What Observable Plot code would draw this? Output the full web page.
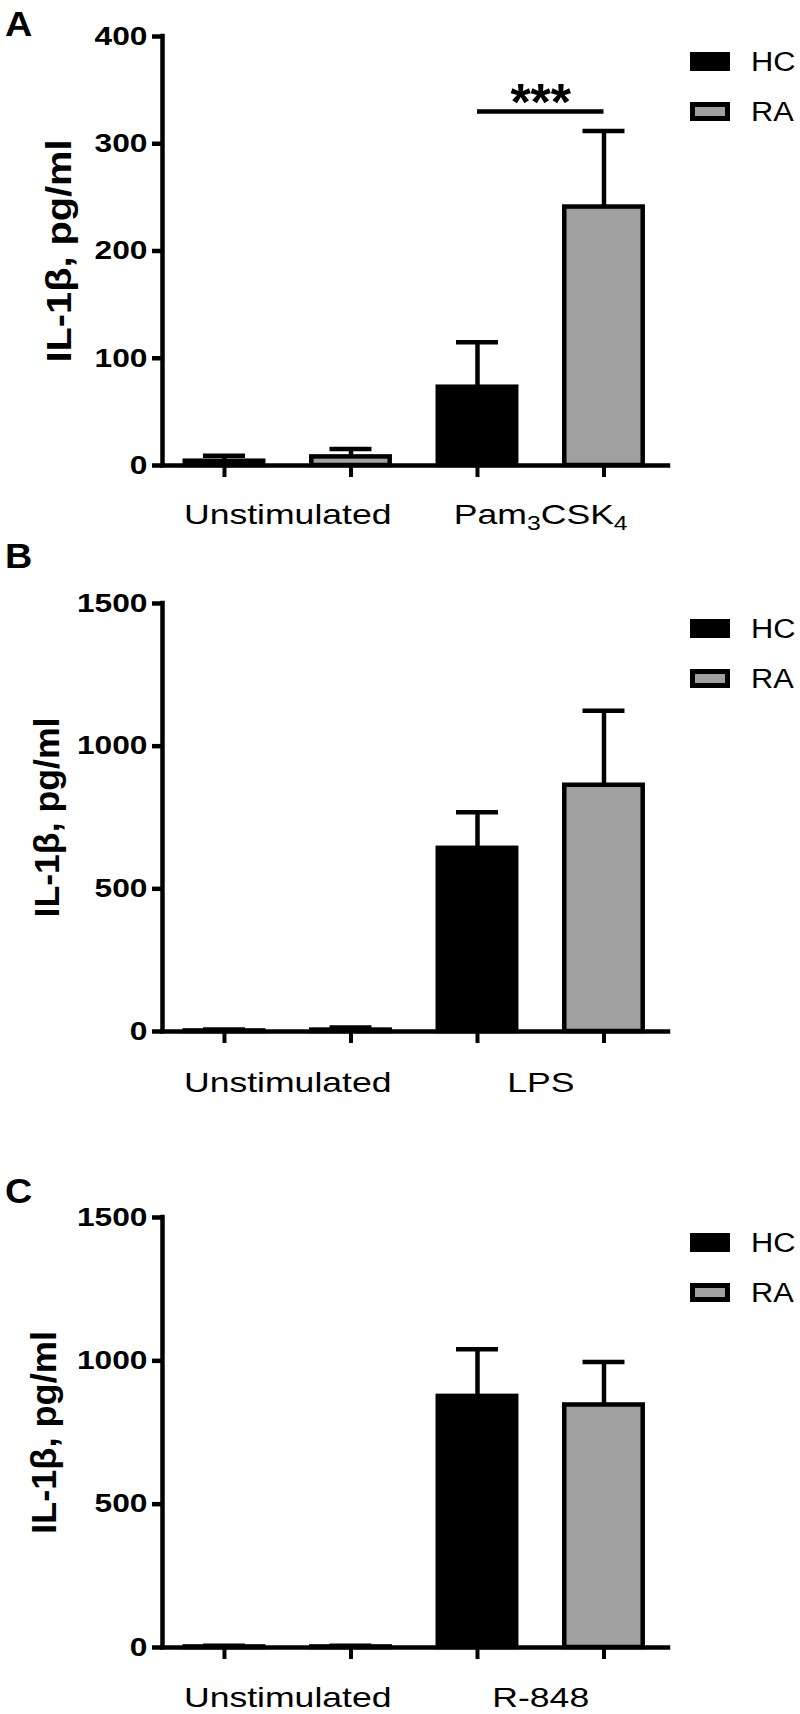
<!DOCTYPE html>
<html>
<head>
<meta charset="utf-8">
<script src="https://cdn.jsdelivr.net/npm/d3@7"></script>
<script src="https://cdn.jsdelivr.net/npm/@observablehq/plot@0.6"></script>
<style>
  html, body { margin: 0; padding: 0; background: #fff; }
  #root { position: relative; width: 800px; height: 1714px; overflow: hidden; font-family: "Liberation Sans", Arial, sans-serif; }
  #root > .panel { position: absolute; left: 0; }
  #overlay { position: absolute; left: 0; top: 0; pointer-events: none; }
</style>
</head>
<body>
<div id="root"></div>
<script>
// ---------------- data ----------------
const groups = ["HC", "RA"];
const groupFill = ["#000000", "#a0a0a0"];
const yLabel = "IL-1β, pg/ml";
const panelLetters = ["A", "B", "C"];

const stimuliA = ["Unstimulated", "Pam3CSK4"];
const meanHC_A = [4, 73];
const semHC_A = [5, 42];
const meanRA_A = [8, 241];
const semRA_A = [7.5, 71];
const yTicksA = [0, 100, 200, 300, 400];
const sigA = [{stimulus: "Pam3CSK4", y: 330, label: "***"}];

const stimuliB = ["Unstimulated", "LPS"];
const meanHC_B = [2, 642];
const semHC_B = [5, 126];
const meanRA_B = [5, 863];
const semRA_B = [9, 261];
const yTicksB = [0, 500, 1000, 1500];

const stimuliC = ["Unstimulated", "R-848"];
const meanHC_C = [2, 876];
const semHC_C = [4, 164];
const meanRA_C = [2, 846];
const semRA_C = [4, 150];
const yTicksC = [0, 500, 1000, 1500];

// ---------------- layout ----------------
const panels = [
  {stimuli: stimuliA, meanHC: meanHC_A, semHC: semHC_A, meanRA: meanRA_A, semRA: semRA_A, yTicks: yTicksA, sig: sigA},
  {stimuli: stimuliB, meanHC: meanHC_B, semHC: semHC_B, meanRA: meanRA_B, semRA: semRA_B, yTicks: yTicksB, sig: []},
  {stimuli: stimuliC, meanHC: meanHC_C, semHC: semHC_C, meanRA: meanRA_C, semRA: semRA_C, yTicks: yTicksC, sig: []}
];
const layouts = [
  {top: 0,    height: 540, marginTop: 36,  marginBottom: 75, titleDx: -92,  titleLength: 223, labelDy: 58, letterX: 5, letterY: 36},
  {top: 540,  height: 570, marginTop: 63,  marginBottom: 79, titleDx: -104, titleLength: 200, labelDy: 60, letterX: 5, letterY: 568},
  {top: 1110, height: 604, marginTop: 107, marginBottom: 67, titleDx: -107, titleLength: 203, labelDy: 59, letterX: 5, letterY: 1203}
];
const SW = 4.5;
const BAR_HALF = 0.31, CAP_HALF = 0.166;
const STRETCH_TICK = 1.22, STRETCH_CAT = 1.27, STRETCH_LEGEND = 1.1, STRETCH_LETTER = 1.08;

function stretchText(el, sx) {
  const t = el.getAttribute("transform") || "";
  const m = t.match(/^\s*translate\([^)]*\)/);
  if (m) {
    el.setAttribute("transform", m[0] + ` scale(${sx},1)` + t.slice(m[0].length));
  } else {
    const x = parseFloat(el.getAttribute("x")) || 0;
    el.setAttribute("transform", `translate(${x},0) scale(${sx},1) translate(${-x},0) ` + t);
  }
}

function subscriptify(el) {
  const s = el.textContent;
  const parts = s.split(/(?<=[A-Za-z])(\d)/).filter(p => p !== "");
  if (parts.length < 2) return;
  el.textContent = "";
  let shifted = false;
  for (const p of parts) {
    const ts = document.createElementNS("http://www.w3.org/2000/svg", "tspan");
    const isSub = /^\d$/.test(p);
    if (isSub) {
      ts.setAttribute("font-size", "19.5");
      if (!shifted) { ts.setAttribute("dy", "6"); shifted = true; }
    } else if (shifted) {
      ts.setAttribute("dy", "-6"); shifted = false;
    }
    ts.textContent = p;
    el.appendChild(ts);
  }
}

const root = document.getElementById("root");

panels.forEach((P, k) => {
  const L = layouts[k];
  const rows = [];
  P.stimuli.forEach((s, si) => {
    groups.forEach((g, gi) => {
      const mean = gi === 0 ? P.meanHC[si] : P.meanRA[si];
      const sem = gi === 0 ? P.semHC[si] : P.semRA[si];
      rows.push({pos: si * groups.length + gi, stimulus: s, group: g, mean, upper: mean + sem});
    });
  });
  const cats = P.stimuli.map((s, si) => ({stimulus: s, pos: si * groups.length + (groups.length - 1) / 2}));
  const posOf = (stim, g) => P.stimuli.indexOf(stim) * groups.length + groups.indexOf(g);
  const xDomain = [-0.49, rows.length - 0.49];
  const yMax = P.yTicks[P.yTicks.length - 1];

  const marks = [
    Plot.ruleX(rows, {x: "pos", y1: "mean", y2: "upper", strokeWidth: SW}),
    Plot.ruleY(rows, {y: "upper", x1: d => d.pos - CAP_HALF, x2: d => d.pos + CAP_HALF, strokeWidth: SW}),
    Plot.rectY(rows, {x1: d => d.pos - BAR_HALF, x2: d => d.pos + BAR_HALF, y1: d => 0, y2: "mean", fill: "group", stroke: "#000", strokeWidth: SW}),
    Plot.ruleY([0], {strokeWidth: SW, strokeLinecap: "square"}),
    Plot.ruleX([xDomain[0]], {y1: d => 0, y2: d => yMax, strokeWidth: SW, strokeLinecap: "square"}),
    Plot.axisY({ticks: P.yTicks, tickSize: 10, tickPadding: 5, tickFormat: d => String(d), label: null, fontSize: 26, fontWeight: "bold", strokeWidth: SW}),
    Plot.axisX({ticks: rows.map(d => d.pos), tickSize: 12, tickFormat: () => "", label: null, strokeWidth: 4}),
    Plot.text(cats, {x: "pos", text: "stimulus", frameAnchor: "bottom", dy: L.labelDy, lineAnchor: "bottom", fontSize: 28}),
    Plot.text([yLabel], {text: d => d, frameAnchor: "left", rotate: -90, dx: L.titleDx, textAnchor: "middle", lineAnchor: "bottom", fontSize: 35, fontWeight: "bold"})
  ];
  if (P.sig.length) {
    marks.push(
      Plot.ruleY(P.sig, {y: "y", x1: d => posOf(d.stimulus, groups[0]), x2: d => posOf(d.stimulus, groups[1]), strokeWidth: SW}),
      Plot.text(P.sig, {x: d => (posOf(d.stimulus, groups[0]) + posOf(d.stimulus, groups[1])) / 2, y: "y", text: "label", lineAnchor: "bottom", dy: 8, fontSize: 52, fontWeight: "bold"})
    );
  }

  const chart = Plot.plot({
    width: 800,
    height: L.height,
    marginLeft: 162,
    marginRight: 132,
    marginTop: L.marginTop,
    marginBottom: L.marginBottom,
    x: {domain: xDomain, axis: null},
    y: {domain: [0, yMax], axis: null},
    color: {domain: groups, range: groupFill},
    style: {fontFamily: "Liberation Sans, Arial, sans-serif", color: "#000", background: "transparent", overflow: "visible"},
    marks
  });

  const wrap = document.createElement("div");
  wrap.className = "panel";
  wrap.style.top = L.top + "px";
  wrap.appendChild(chart);
  root.appendChild(wrap);

  const svg = d3.select(chart.tagName.toLowerCase() === "svg" ? chart : chart.querySelector("svg"));
  svg.selectAll('g[aria-label="y-axis tick label"]').attr("font-weight", "bold").attr("font-size", 26);
  svg.selectAll('g[aria-label="y-axis tick label"] text').each(function() { stretchText(this, STRETCH_TICK); });
  svg.selectAll('g[aria-label="y-axis tick"]').attr("stroke-width", SW);
  svg.selectAll('g[aria-label="x-axis tick"]').attr("stroke-width", 4);
  svg.selectAll("text").each(function() {
    const s = this.textContent;
    if (P.stimuli.includes(s)) {
      subscriptify(this);
      stretchText(this, STRETCH_CAT);
    } else if (s === yLabel) {
      this.setAttribute("textLength", L.titleLength);
      this.setAttribute("lengthAdjust", "spacingAndGlyphs");
    }
  });
});

// overlay: panel letters and legends
const overlay = d3.select(root).append("svg").attr("id", "overlay").attr("width", 800).attr("height", 1714)
  .style("font-family", "Liberation Sans, Arial, sans-serif");
layouts.forEach((L, k) => {
  overlay.append("text")
    .attr("transform", `translate(${L.letterX},${L.letterY}) scale(${STRETCH_LETTER},1)`)
    .attr("font-size", 35).attr("font-weight", "bold").text(panelLetters[k]);
  const y0 = L.top + L.marginTop;
  groups.forEach((g, gi) => {
    const ys = y0 + 16 + gi * 50;
    if (gi === 0) {
      overlay.append("rect").attr("x", 690).attr("y", ys).attr("width", 40).attr("height", 19).attr("fill", groupFill[gi]);
    } else {
      overlay.append("rect").attr("x", 692.5).attr("y", ys + 2.5).attr("width", 35).attr("height", 14)
        .attr("fill", groupFill[gi]).attr("stroke", "#000").attr("stroke-width", 5);
    }
    overlay.append("text")
      .attr("transform", `translate(751,${ys + 19}) scale(${STRETCH_LEGEND},1)`)
      .attr("font-size", 28).text(g);
  });
});
</script>
</body>
</html>
